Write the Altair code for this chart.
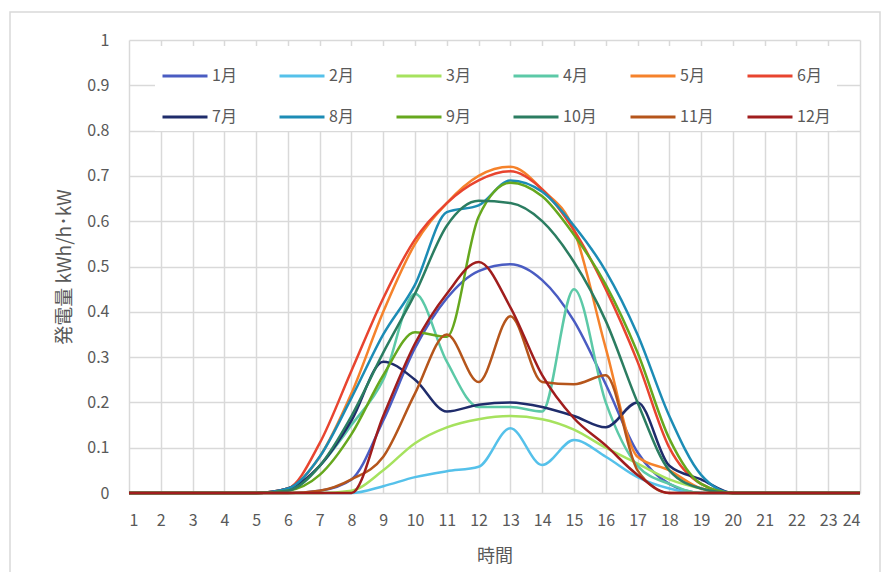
import altair as alt
import pandas as pd

hours = list(range(1, 25))
months = ["1月", "2月", "3月", "4月", "5月", "6月", "7月", "8月", "9月", "10月", "11月", "12月"]
colors = ["#4A5CC2", "#55C1EA", "#A6E25E", "#5CC9A7", "#F5822B", "#E8442F",
          "#1F2C6B", "#1C8CB5", "#66A81E", "#2B7D61", "#B5551B", "#A01D1D"]

m1 = [0, 0, 0, 0, 0, 0, 0.005, 0.03, 0.16, 0.32, 0.43, 0.49, 0.505, 0.47, 0.38, 0.24, 0.09, 0.02, 0, 0, 0, 0, 0, 0]
m2 = [0, 0, 0, 0, 0, 0, 0, 0, 0.015, 0.035, 0.048, 0.058, 0.143, 0.062, 0.117, 0.08, 0.035, 0.01, 0, 0, 0, 0, 0, 0]
m3 = [0, 0, 0, 0, 0, 0, 0, 0.005, 0.05, 0.11, 0.145, 0.163, 0.17, 0.163, 0.14, 0.10, 0.065, 0.03, 0.01, 0, 0, 0, 0, 0]
m4 = [0, 0, 0, 0, 0, 0.005, 0.06, 0.15, 0.25, 0.44, 0.29, 0.19, 0.19, 0.18, 0.45, 0.20, 0.06, 0.02, 0, 0, 0, 0, 0, 0]
m5 = [0, 0, 0, 0, 0, 0.01, 0.08, 0.22, 0.40, 0.55, 0.64, 0.70, 0.72, 0.67, 0.58, 0.32, 0.08, 0.05, 0.01, 0, 0, 0, 0, 0]
m6 = [0, 0, 0, 0, 0, 0.01, 0.11, 0.27, 0.43, 0.56, 0.64, 0.69, 0.71, 0.67, 0.58, 0.45, 0.29, 0.10, 0.02, 0, 0, 0, 0, 0]
m7 = [0, 0, 0, 0, 0, 0.01, 0.06, 0.16, 0.29, 0.25, 0.18, 0.195, 0.20, 0.19, 0.17, 0.145, 0.20, 0.06, 0.03, 0, 0, 0, 0, 0]
m8 = [0, 0, 0, 0, 0, 0.01, 0.08, 0.21, 0.35, 0.46, 0.62, 0.635, 0.69, 0.665, 0.59, 0.49, 0.35, 0.17, 0.04, 0, 0, 0, 0, 0]
m9 = [0, 0, 0, 0, 0, 0.005, 0.04, 0.13, 0.26, 0.355, 0.345, 0.61, 0.685, 0.655, 0.57, 0.46, 0.31, 0.12, 0.02, 0, 0, 0, 0, 0]
m10 = [0, 0, 0, 0, 0, 0.005, 0.06, 0.17, 0.31, 0.44, 0.59, 0.645, 0.64, 0.60, 0.51, 0.38, 0.20, 0.05, 0.01, 0, 0, 0, 0, 0]
m11 = [0, 0, 0, 0, 0, 0, 0.005, 0.03, 0.08, 0.22, 0.35, 0.245, 0.39, 0.245, 0.24, 0.26, 0.05, 0, 0, 0, 0, 0, 0, 0]
m12 = [0, 0, 0, 0, 0, 0, 0, 0, 0.17, 0.33, 0.44, 0.51, 0.41, 0.26, 0.165, 0.105, 0.04, 0, 0, 0, 0, 0, 0, 0]

series = [m1, m2, m3, m4, m5, m6, m7, m8, m9, m10, m11, m12]
yvals = [0, 0.1, 0.2, 0.3, 0.4, 0.5, 0.6, 0.7, 0.8, 0.9, 1]

rows = []
for mi, (name, vals) in enumerate(zip(months, series)):
    for h, v in zip(hours, vals):
        rows.append({"month": name, "order": mi, "hour": h, "value": v})
df = pd.DataFrame(rows)

FONT = "Noto Sans CJK JP"
GRAY = "#595959"

lines = alt.Chart(df).mark_line(interpolate="monotone", strokeWidth=2.5).encode(
    x=alt.X("hour:Q",
            scale=alt.Scale(domain=[1, 24], nice=False, zero=False),
            axis=alt.Axis(values=hours, title="時間", grid=True, ticks=False, domain=False,
                          labelFontSize=16, labelColor=GRAY, labelFont=FONT, labelPadding=19,
                          titleFontSize=18, titleColor=GRAY, titleFont=FONT, titleFontWeight="normal",
                          titlePadding=19)),
    y=alt.Y("value:Q",
            scale=alt.Scale(domain=[0, 1], nice=False),
            axis=alt.Axis(values=yvals, format=".1~f", title="発電量  kWh/h･kW", grid=True, ticks=False,
                          domain=False, labelFontSize=16, labelColor=GRAY, labelFont=FONT, labelPadding=20,
                          titleFontSize=19, titleColor=GRAY, titleFont=FONT, titleFontWeight="normal",
                          titlePadding=12)),
    color=alt.Color("month:N",
                    scale=alt.Scale(domain=months, range=colors),
                    sort=months,
                    legend=alt.Legend(orient="none", legendX=26, legendY=6, columns=6, direction="horizontal",
                                      title=None,
                                      symbolType="stroke", symbolSize=2025, symbolStrokeWidth=3,
                                      labelFontSize=16, labelColor=GRAY, labelFont=FONT, labelOffset=3,
                                      columnPadding=27, rowPadding=9, gridAlign="all",
                                      fillColor="white", padding=6)),
    detail="order:O",
)

border = alt.Chart(pd.DataFrame({"a": [0]})).mark_rect(fill="transparent", stroke="#D9D9D9", strokeWidth=1.5).encode(
    x=alt.value(-119), x2=alt.value(751), y=alt.value(-28), y2=alt.value(600)
)

chart = alt.layer(border, lines).properties(
    width=731, height=453,
    autosize=alt.AutoSizeParams(type="none"),
    padding={"left": 129, "top": 40, "right": 27, "bottom": 79},
).configure_view(stroke=None).configure_axis(gridColor="#D9D9D9", gridWidth=1.5)

chart.save("out.html", embed_options={"renderer": "svg", "actions": False})
